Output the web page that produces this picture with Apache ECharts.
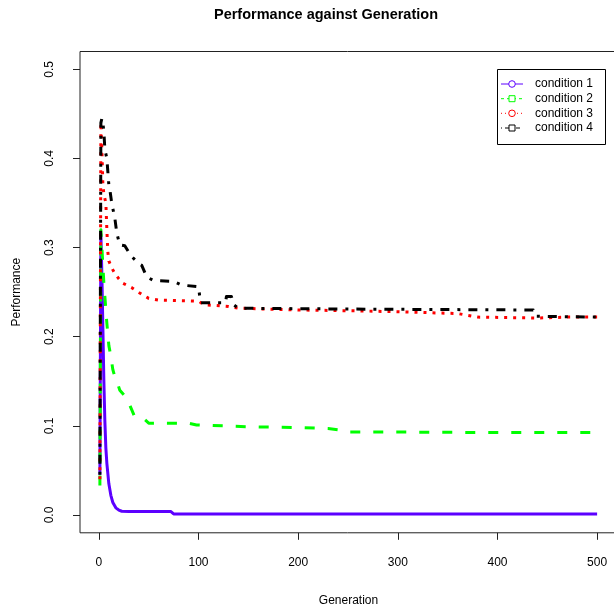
<!DOCTYPE html>
<html>
<head>
<meta charset="utf-8">
<script src="https://cdn.jsdelivr.net/npm/echarts@6/dist/echarts.min.js"></script>
<style>
html,body{margin:0;padding:0;background:#fff;}
#chart{width:614px;height:610px;}
</style>
</head>
<body>
<div id="chart"></div>
<script>
// ---- data ----
const seriesNames = ['condition 1', 'condition 2', 'condition 3', 'condition 4'];

const gen1 = [1,2,3,4,5,6,7,8,10,12,14,17,20,23,30,50,72,75,100,200,300,400,500];
const perf1 = [0.045,0.315,0.27,0.21,0.15,0.105,0.075,0.058,0.035,0.022,0.014,0.008,0.0055,0.0042,0.004,0.004,0.004,0.0012,0.001,0.001,0.001,0.001,0.001];

const gen2 = [1,2,3,4,5,6,8,10,12,14,16,18,21,25,28,33,36,40,46,50,60,75,90,98,100,150,200,205,230,245,250,300,400,500];
const perf2 = [0.033,0.32,0.30,0.28,0.26,0.245,0.215,0.19,0.178,0.163,0.155,0.15,0.14,0.135,0.131,0.118,0.11,0.108,0.107,0.103,0.103,0.103,0.103,0.101,0.1,0.099,0.098,0.098,0.097,0.095,0.093,0.093,0.0925,0.0925];

const gen3 = [1,2,3,4,5,6,7,8,9,10,13,16,20,24,33,41,50,60,100,105,130,140,200,260,300,360,380,440,470,500];
const perf3 = [0.04,0.44,0.41,0.37,0.36,0.355,0.35,0.32,0.295,0.285,0.277,0.271,0.265,0.26,0.255,0.249,0.243,0.241,0.24,0.236,0.234,0.232,0.23,0.229,0.228,0.226,0.222,0.221,0.222,0.222];

const gen4 = [1,2,3,4,5,6,8,9,10,11,13,16,18,21,26,32,40,43,48,55,75,83,100,102,127,128,133,135,140,250,436,438,500];
const perf4 = [0.045,0.44,0.445,0.44,0.43,0.41,0.40,0.385,0.37,0.365,0.349,0.333,0.316,0.303,0.302,0.291,0.282,0.28,0.267,0.263,0.262,0.258,0.256,0.238,0.238,0.245,0.245,0.236,0.232,0.231,0.23,0.223,0.222];

const xTicks = [0,100,200,300,400,500];
const yTicks = [0,0.1,0.2,0.3,0.4,0.5];

// ---- chart ----
const FONT = '"Liberation Sans", Arial, Helvetica, sans-serif';
const colors = ['#5c00ff', '#00ff00', '#ff0000', '#000000'];
const dashes = ['solid', [10, 13], [3, 6], [3, 8, 9, 8]];
const gens = [gen1, gen2, gen3, gen4];
const perfs = [perf1, perf2, perf3, perf4];

const chart = echarts.init(document.getElementById('chart'), null, {renderer: 'canvas'});

const series = seriesNames.map((name, i) => ({
  name: name,
  type: 'line',
  data: gens[i].map((g, j) => [g, perfs[i][j]]),
  showSymbol: false,
  symbol: 'none',
  lineStyle: {color: colors[i], width: 3, type: dashes[i], cap: 'butt', join: 'round'},
  itemStyle: {color: colors[i]},
  z: 2 + i,
  silent: true
}));

// legend (drawn as graphic, mimicking R legend box)
const legendY = [84, 98.7, 113.3, 128];
const legendDash = [null, [3, 3], [1, 3], [1, 3, 4, 3]];
const legendSym = ['circle', 'rect', 'circle', 'rect'];
const legendGraphics = [{
  type: 'rect', shape: {x: 497.5, y: 69.5, width: 108, height: 75},
  style: {fill: '#fff', stroke: '#000', lineWidth: 1}, z: 100
}];
seriesNames.forEach((name, i) => {
  const y = legendY[i];
  legendGraphics.push({
    type: 'line', shape: {x1: 501, y1: y, x2: 523, y2: y},
    style: {stroke: colors[i], lineWidth: 1, lineDash: legendDash[i]}, z: 101
  });
  if (legendSym[i] === 'circle') {
    legendGraphics.push({type: 'circle', shape: {cx: 512, cy: y, r: 3.3},
      style: {fill: '#fff', stroke: colors[i], lineWidth: 1}, z: 102});
  } else {
    legendGraphics.push({type: 'rect', shape: {x: 509, y: y - 3, width: 6, height: 6},
      style: {fill: '#fff', stroke: colors[i], lineWidth: 1}, z: 102});
  }
  legendGraphics.push({
    type: 'text', x: 535, y: y,
    style: {text: name, fill: '#000', font: '12px ' + FONT, verticalAlign: 'middle'},
    z: 102
  });
});

chart.setOption({
  animation: false,
  backgroundColor: '#fff',
  title: {
    text: 'Performance against Generation',
    left: 321, top: 2, textAlign: 'center',
    textStyle: {fontFamily: FONT, fontSize: 14.5, fontWeight: 'bold', color: '#000'}
  },
  grid: {
    left: 80, top: 51.5, width: 537, height: 481.3,
    show: true, borderColor: '#222', borderWidth: 1, backgroundColor: 'transparent',
    containLabel: false, outerBoundsMode: 'none'
  },
  xAxis: {
    type: 'value', min: -18.96, max: 519.96,
    name: 'Generation', nameLocation: 'middle', nameGap: 62,
    nameTextStyle: {fontFamily: FONT, fontSize: 12, color: '#000'},
    axisLine: {show: false, onZero: false},
    axisTick: {show: true, length: 7, inside: false, customValues: xTicks, lineStyle: {color: '#222'}},
    axisLabel: {show: true, margin: 24, customValues: xTicks, fontFamily: FONT, fontSize: 12, color: '#000'},
    splitLine: {show: false}
  },
  yAxis: {
    type: 'value', min: -0.02, max: 0.52,
    name: 'Performance', nameLocation: 'middle', nameGap: 57, nameRotate: 90,
    nameTextStyle: {fontFamily: FONT, fontSize: 12, color: '#000'},
    axisLine: {show: false, onZero: false},
    axisTick: {show: true, length: 7, inside: false, customValues: yTicks, lineStyle: {color: '#222'}},
    axisLabel: {show: true, margin: 24, rotate: 90, customValues: yTicks,
      formatter: v => v.toFixed(1), fontFamily: FONT, fontSize: 12, color: '#000'},
    splitLine: {show: false}
  },
  series: series,
  graphic: legendGraphics
});
</script>
</body>
</html>
